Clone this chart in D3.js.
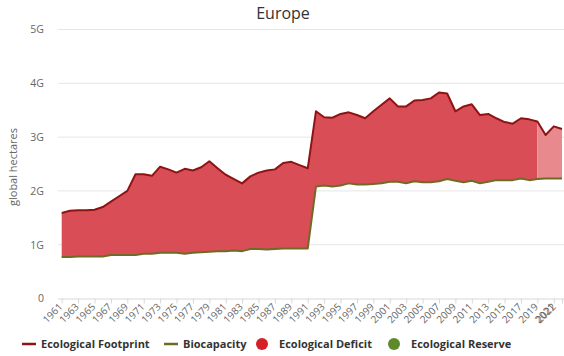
<!DOCTYPE html>
<html>
<head>
<meta charset="utf-8">
<script src="https://cdn.jsdelivr.net/npm/d3@7"></script>
<style>
  html, body { margin: 0; padding: 0; background: #fff; }
  svg { display: block; font-family: "Open Sans", "Noto Sans", sans-serif; }
</style>
</head>
<body>
<svg id="chart" width="564" height="356"></svg>
<script>
// Europe: ecological footprint vs biocapacity, in billions of global hectares
const years = d3.range(1961, 2023);
const footprint = [
  1.59, 1.63, 1.64, 1.64, 1.65, 1.70, 1.80, 1.90, 2.00, 2.31,
  2.31, 2.28, 2.45, 2.40, 2.34, 2.41, 2.38, 2.44, 2.55, 2.42,
  2.30, 2.22, 2.14, 2.27, 2.34, 2.38, 2.40, 2.52, 2.54, 2.48,
  2.42, 3.48, 3.37, 3.36, 3.43, 3.46, 3.41, 3.35, 3.48, 3.60,
  3.72, 3.57, 3.57, 3.68, 3.69, 3.72, 3.83, 3.81, 3.48, 3.57,
  3.61, 3.41, 3.43, 3.35, 3.28, 3.25, 3.35, 3.33, 3.29, 3.04,
  3.20, 3.15
];
const biocapacity = [
  0.77, 0.77, 0.78, 0.78, 0.78, 0.78, 0.81, 0.81, 0.81, 0.81,
  0.83, 0.83, 0.85, 0.85, 0.85, 0.83, 0.85, 0.86, 0.87, 0.88,
  0.88, 0.89, 0.88, 0.92, 0.92, 0.91, 0.92, 0.93, 0.93, 0.93,
  0.93, 2.08, 2.10, 2.08, 2.10, 2.14, 2.12, 2.12, 2.13, 2.14,
  2.17, 2.17, 2.14, 2.18, 2.16, 2.16, 2.18, 2.22, 2.19, 2.16,
  2.19, 2.14, 2.17, 2.20, 2.20, 2.20, 2.23, 2.20, 2.22, 2.23,
  2.23, 2.23
];
// years from this one onward are drawn as estimates (lighter fill)
const estimateFrom = 2019;
const yTicks = [0, 1, 2, 3, 4, 5];
const yTickLabels = ["0", "1G", "2G", "3G", "4G", "5G"];
const xTickYears = d3.range(1961, 2022, 2).concat([2022]);
const legendItems = [
  { label: "Ecological Footprint", kind: "line", color: "#8e1414" },
  { label: "Biocapacity", kind: "line", color: "#6f6a25" },
  { label: "Ecological Deficit", kind: "dot", color: "#d42027" },
  { label: "Ecological Reserve", kind: "dot", color: "#5f8a2b" }
];

const data = years.map((yr, i) => ({ year: yr, fp: footprint[i], bc: biocapacity[i] }));

const svg = d3.select("#chart");
const W = 564, H = 356;

const x = d3.scaleLinear().domain([1961, 2022]).range([61.7, 562]);
const y = d3.scaleLinear().domain([0, 5]).range([298.5, 29.5]);

// title
svg.append("text")
  .attr("x", 283).attr("y", 19)
  .attr("text-anchor", "middle")
  .attr("font-size", 16)
  .attr("fill", "#333")
  .text("Europe");

// horizontal grid
svg.append("g")
  .selectAll("line")
  .data(yTicks.filter(d => d > 0))
  .join("line")
  .attr("x1", 58).attr("x2", W)
  .attr("y1", d => y(d)).attr("y2", d => y(d))
  .attr("stroke", "#e6e6e6").attr("stroke-width", 1);

// y axis labels
const yAxis = d3.axisLeft(y)
  .tickValues(yTicks)
  .tickFormat((d, i) => yTickLabels[i])
  .tickSize(0)
  .tickPadding(0);
const gy = svg.append("g").attr("transform", "translate(44,0)").call(yAxis);
gy.select(".domain").remove();
gy.selectAll("text")
  .attr("font-size", 10.5)
  .attr("fill", "#666")
  .attr("font-family", "'Open Sans', sans-serif");

// y axis title
svg.append("text")
  .attr("transform", "translate(17,167) rotate(-90)")
  .attr("text-anchor", "middle")
  .attr("font-size", 11)
  .attr("fill", "#666")
  .text("global hectares");

// deficit area between biocapacity and footprint
const area = d3.area()
  .x(d => x(d.year))
  .y0(d => y(d.bc))
  .y1(d => y(d.fp));

const defs = svg.append("defs");
defs.append("clipPath").attr("id", "clip-measured")
  .append("rect")
  .attr("x", 0).attr("y", 0)
  .attr("width", x(estimateFrom)).attr("height", H);
defs.append("clipPath").attr("id", "clip-estimate")
  .append("rect")
  .attr("x", x(estimateFrom)).attr("y", 0)
  .attr("width", W - x(estimateFrom)).attr("height", H);

svg.append("path")
  .datum(data)
  .attr("clip-path", "url(#clip-measured)")
  .attr("d", area)
  .attr("fill", "#d94e56");
svg.append("path")
  .datum(data)
  .attr("clip-path", "url(#clip-estimate)")
  .attr("d", area)
  .attr("fill", "#e8898e");

// x axis
const xAxis = d3.axisBottom(x)
  .tickValues(xTickYears)
  .tickFormat(d3.format("d"))
  .tickSize(5)
  .tickSizeOuter(0);
const gx = svg.append("g").attr("transform", `translate(0,${y(0)})`).call(xAxis);
gx.select(".domain")
  .attr("d", `M58,0.5H${W}`)
  .attr("stroke", "#d8d8d8");
gx.selectAll(".tick line").attr("stroke", "#d8d8d8");
gx.selectAll("text")
  .attr("font-size", 10)
  .attr("fill", "#666")
  .attr("font-family", "'Open Sans', sans-serif")
  .attr("text-anchor", "end")
  .attr("dy", null)
  .attr("y", 0)
  .attr("transform", d => d === 2022
    ? "translate(-6,9) rotate(-45)"   // pulled in so it stays inside the frame
    : "translate(1,9) rotate(-45)");

// biocapacity and footprint lines
svg.append("path")
  .datum(data)
  .attr("d", d3.line().x(d => x(d.year)).y(d => y(d.bc)))
  .attr("fill", "none")
  .attr("stroke", legendItems[1].color)
  .attr("stroke-width", 2)
  .attr("stroke-linejoin", "round");
svg.append("path")
  .datum(data)
  .attr("d", d3.line().x(d => x(d.year)).y(d => y(d.fp)))
  .attr("fill", "none")
  .attr("stroke", legendItems[0].color)
  .attr("stroke-width", 2)
  .attr("stroke-linejoin", "round");

// legend
const legendX = [22, 164, 256, 388];
const legendY = 344;
const lg = svg.append("g");
legendItems.forEach((it, i) => {
  const g = lg.append("g").attr("transform", `translate(${legendX[i]},${legendY})`);
  if (it.kind === "line") {
    g.append("line").attr("x1", 0).attr("x2", 14).attr("y1", 0).attr("y2", 0)
      .attr("stroke", it.color).attr("stroke-width", 2.5);
  } else {
    g.append("circle").attr("cx", 6).attr("cy", 0).attr("r", 6).attr("fill", it.color);
  }
  g.append("text")
    .attr("x", it.kind === "line" ? 19 : 23)
    .attr("y", 4)
    .attr("font-size", 11)
    .attr("font-weight", "bold")
    .attr("fill", "#333")
    .text(it.label);
});
</script>
</body>
</html>
